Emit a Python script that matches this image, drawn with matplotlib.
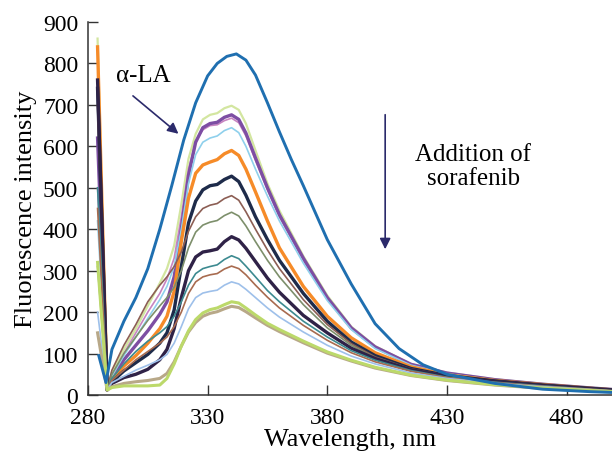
import numpy as np
import matplotlib.pyplot as plt

plt.rcParams['font.family'] = ['Liberation Serif', 'DejaVu Serif']

# wavelength grid (nm) for the quenched spectra
wl = [284, 288, 290, 295, 300, 305, 310, 313, 316, 319, 322, 325, 328, 331, 334, 337,
      340, 343, 346, 350, 355, 360, 370, 380, 390, 400, 415, 430, 450, 470, 490, 500]

# free alpha-lactalbumin
la_wl = [284.5, 287.5, 290, 295, 300, 305, 310, 315, 320, 325, 330, 334, 338, 342, 346,
         350, 355, 360, 365, 370, 375, 380, 390, 400, 410, 420, 430, 450, 470, 490, 500]
la_int = [95, 30, 110, 178, 235, 305, 400, 505, 615, 705, 770, 800, 817, 823, 808,
          772, 705, 635, 568, 505, 440, 375, 268, 172, 112, 73, 50, 28, 14, 8, 6]

# spectra after successive additions of sorafenib
spectra = [
    [860, 15, 55, 110, 160, 215, 270, 305, 360, 460, 570, 630, 665, 676, 680, 692,
     698, 688, 655, 590, 510, 445, 335, 240, 165, 118, 75, 54, 38, 27, 18, 14],
    [500, 14, 48, 100, 150, 200, 245, 280, 330, 430, 545, 612, 640, 650, 652, 662,
     668, 657, 625, 566, 495, 430, 325, 232, 160, 114, 73, 52, 37, 26, 17, 13],
    [620, 12, 40, 85, 120, 155, 195, 225, 285, 400, 530, 610, 645, 655, 658, 670,
     676, 665, 632, 572, 500, 435, 330, 235, 162, 116, 74, 53, 37, 26, 17, 13],
    [420, 14, 45, 95, 140, 185, 230, 262, 310, 400, 510, 580, 610, 620, 625, 638,
     645, 633, 600, 545, 480, 420, 318, 228, 158, 112, 72, 51, 36, 25, 17, 13],
    [840, 14, 38, 70, 95, 125, 160, 190, 250, 370, 475, 535, 555, 562, 568, 582,
     590, 578, 545, 490, 420, 355, 262, 190, 138, 102, 68, 49, 35, 25, 16, 12],
    [740, 13, 32, 58, 78, 98, 125, 150, 205, 310, 415, 468, 495, 505, 508, 520,
     528, 515, 482, 430, 375, 325, 245, 178, 128, 95, 64, 47, 34, 24, 16, 12],
    [700, 15, 60, 120, 170, 225, 265, 285, 310, 345, 395, 430, 450, 458, 462, 474,
     481, 470, 442, 400, 350, 305, 230, 170, 124, 92, 63, 46, 34, 24, 16, 12],
    [310, 14, 50, 100, 140, 180, 215, 235, 260, 300, 355, 393, 410, 417, 421, 433,
     441, 432, 408, 370, 325, 285, 218, 162, 120, 90, 62, 45, 33, 23, 15, 11],
    [760, 12, 28, 42, 50, 62, 85, 110, 160, 235, 300, 333, 345, 348, 352, 370,
     382, 374, 354, 322, 282, 248, 192, 150, 113, 88, 61, 45, 33, 23, 15, 11],
    [500, 13, 40, 75, 105, 130, 150, 165, 190, 225, 265, 293, 305, 310, 314, 327,
     336, 329, 311, 285, 252, 225, 178, 140, 107, 84, 59, 43, 31, 22, 14, 10],
    [450, 13, 35, 60, 85, 105, 125, 140, 165, 200, 245, 273, 285, 290, 293, 304,
     311, 305, 290, 265, 236, 210, 168, 132, 102, 80, 57, 42, 30, 21, 14, 10],
    [200, 13, 30, 45, 60, 72, 85, 98, 125, 165, 208, 235, 246, 250, 253, 265,
     273, 268, 255, 235, 210, 188, 152, 120, 94, 75, 53, 40, 28, 20, 13, 9],
    [150, 12, 20, 28, 32, 35, 40, 52, 80, 118, 152, 175, 190, 197, 201, 208,
     214, 211, 201, 186, 168, 153, 126, 101, 82, 65, 47, 35, 24, 16, 10, 7],
    [320, 12, 18, 22, 22, 22, 24, 40, 75, 118, 155, 182, 198, 206, 210, 218,
     225, 222, 210, 193, 173, 158, 130, 104, 84, 67, 48, 36, 25, 17, 11, 8],
]
colors = ['#d3e6a0', '#c784c0', '#7d4ea3', '#8fd0ec', '#f68b28', '#1e2b4a', '#8c5e54',
          '#7d8f6b', '#2f2247', '#3c8a90', '#a86b4f', '#9ec0ea', '#b8a888', '#bcd96a']
widths = [1.6, 1.2, 2.4, 1.2, 2.4, 2.4, 1.2, 1.2, 2.4, 1.2, 1.2, 1.2, 2.2, 2.2]

xticks = [280, 330, 380, 430, 480]
yticks = list(range(0, 901, 100))

fig = plt.figure(figsize=(6.12, 4.6), dpi=100)
ax = fig.add_axes([88 / 612, 1 - 396 / 460, 524 / 612, 373 / 460])

for y, c, w in zip(spectra, colors, widths):
    ax.plot(wl, y, color=c, lw=w, solid_joinstyle='round')
ax.plot(la_wl, la_int, color='#1f6fb0', lw=2.1, solid_joinstyle='round')

ax.annotate('', xy=(318.7, 626), xytext=(297.9, 726),
            arrowprops=dict(arrowstyle='-|>', color='#2b2a6b', lw=1.2, mutation_scale=16))
ax.text(303, 772, 'α-LA', fontsize=18, ha='center', va='center')

ax.annotate('', xy=(404.2, 345), xytext=(404.2, 683),
            arrowprops=dict(arrowstyle='-|>', color='#2b2a6b', lw=1.2, mutation_scale=16))
ax.text(441, 553, 'Addition of\nsorafenib', fontsize=18, ha='center', va='center',
        linespacing=1.1)

ax.set_xlim(280, 499)
ax.set_ylim(0, 900)
ax.set_xticks(xticks)
ax.set_yticks(yticks)
for s in ['top', 'right']:
    ax.spines[s].set_visible(False)
for s in ['left', 'bottom']:
    ax.spines[s].set_linewidth(1.1)
    ax.spines[s].set_color('#333333')
ax.tick_params(direction='in', length=7, width=1, color='#333333', labelsize=17)
ax.tick_params(axis='x', pad=9)
ax.tick_params(axis='y', pad=7)
ax.set_xlabel('Wavelength, nm', fontsize=19, labelpad=0)
ax.set_ylabel('Fluorescence intensity', fontsize=19, labelpad=4)

fig.savefig('out.png', dpi=100)
